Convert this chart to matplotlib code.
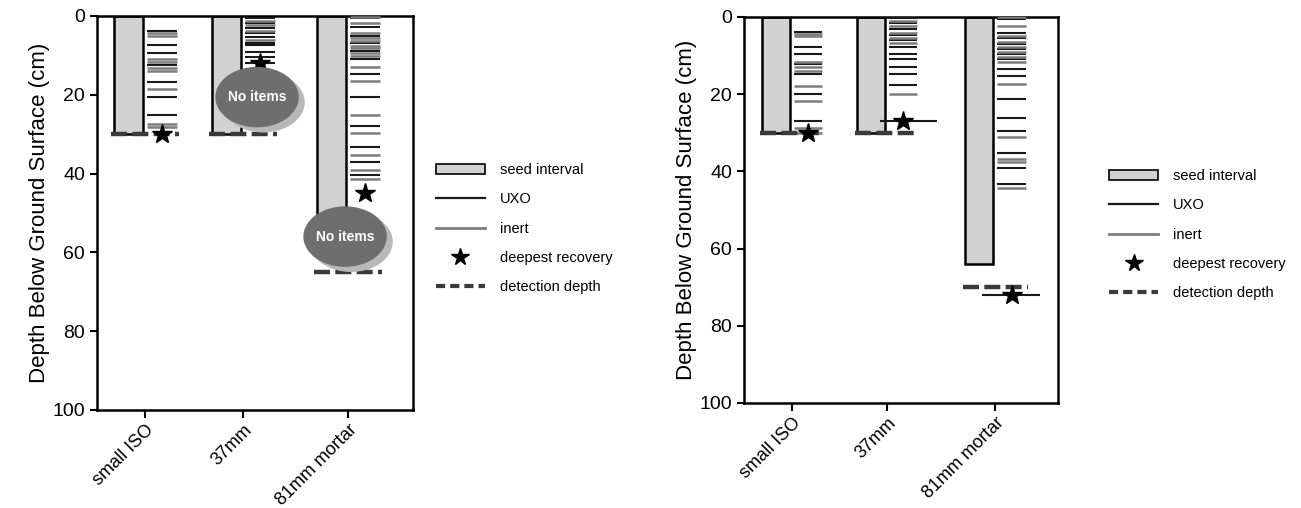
import matplotlib
matplotlib.use("Agg")
import matplotlib.pyplot as plt
from matplotlib.patches import Patch, Ellipse
from matplotlib.lines import Line2D

plt.rcParams['font.family'] = ['Liberation Sans', 'DejaVu Sans']

categories = ["small ISO", "37mm", "81mm mortar"]

# site A (left panel)
a_seed = [30, 30, 58]
a_detect = [30, 30, 65]
a_deepest = [30, 12, 45]
a_uxo = [
    [3.7, 7.4, 9.3, 12.4, 16.7, 20.6, 25.1],
    [0.6, 1.7, 3.1, 4.4, 5.4, 6.8, 7.4, 9.1, 10.3, 11.9],
    [0.6, 2.7, 5.1, 6.9, 8.8, 11.0, 14.7, 20.5, 27.9, 33.3, 37.0, 40.4],
]
a_inert = [
    [4.4, 5.0, 11.0, 11.7, 13.3, 14.0, 18.6, 27.4, 28.1],
    [1.2, 2.3, 3.9, 6.1],
    [0.3, 1.9, 4.4, 5.7, 6.3, 7.5, 8.2, 9.5, 10.2, 12.9, 16.5, 25.1, 29.6,
     35.2, 39.0, 41.4],
]
a_empty = [None, 20.6, 56.0]

# site B (right panel)
b_seed = [30, 30, 64]
b_detect = [30, 30, 70]
b_deepest = [30, 27, 72]
b_uxo = [
    [3.8, 7.7, 9.7, 12.2, 14.7, 20.0, 26.9],
    [0.3, 1.6, 3.2, 4.7, 6.1, 7.7, 9.6, 11.0, 12.9, 14.8, 17.6],
    [0.6, 4.2, 5.5, 7.0, 8.4, 9.6, 11.0, 13.5, 15.3, 21.3, 26.2, 29.5,
     35.3, 39.2, 43.3],
]
b_inert = [
    [4.4, 4.9, 11.6, 12.9, 14.0, 17.9, 21.9, 28.8, 30.0],
    [1.0, 2.3, 4.1, 5.5, 6.8, 20.0],
    [0.1, 2.3, 4.9, 6.4, 7.7, 9.0, 10.3, 11.6, 17.4, 31.1, 36.9, 37.5, 44.4],
]

SEED_C = "#d2d2d2"
UXO_C = "#1a1a1a"
INERT_C = "#7c7c7c"
DET_C = "#3a3a3a"


def draw_panel(ax, xpos, seed, detect, deepest, uxo, inert, empty=None,
               long_star=None):
    for i, x in enumerate(xpos):
        ax.bar(x - 0.17, seed[i], width=0.29, bottom=0, color=SEED_C,
               edgecolor="black", linewidth=1.8, zorder=2)
        for d in uxo[i]:
            ax.hlines(d, x + 0.02, x + 0.32, color=UXO_C, lw=1.5, zorder=3)
        for d in inert[i]:
            ax.hlines(d, x + 0.02, x + 0.32, color=INERT_C, lw=1.8, zorder=3)
        if long_star and long_star[i]:
            ax.hlines(deepest[i], x + long_star[i][0], x + long_star[i][1],
                      color=UXO_C, lw=1.5, zorder=3)
        ax.plot([x - 0.34, x + 0.34], [detect[i], detect[i]], color=DET_C,
                lw=3.2, dashes=(3.6, 1.2), solid_capstyle="butt", zorder=4)
        ax.plot(x + 0.17, deepest[i], marker="*", color="black",
                markersize=15, zorder=5)
        if empty and empty[i] is not None:
            cx = x + 0.14 if i == 1 else x - 0.03
            ax.add_patch(Ellipse((cx + 0.06, empty[i] + 1.3), 0.82, 15,
                                 color="#b8b8b8", zorder=6))
            ax.add_patch(Ellipse((cx, empty[i]), 0.82, 15,
                                 color="#6e6e6e", zorder=7))
            ax.text(cx, empty[i], "No items", color="white", fontsize=10,
                    fontweight="bold", ha="center", va="center", zorder=8)

    ax.set_ylim(100, 0)
    ax.set_yticks([0, 20, 40, 60, 80, 100])
    ax.set_xticks(xpos)
    ax.set_xticklabels(categories, rotation=45, ha="right",
                       rotation_mode="anchor", fontsize=13)
    ax.tick_params(axis="y", labelsize=14, width=1.5, length=5)
    ax.tick_params(axis="x", width=1.5, length=6, pad=2)
    ax.set_ylabel("Depth Below Ground Surface (cm)", fontsize=16, labelpad=2)
    for s in ax.spines.values():
        s.set_linewidth(1.8)


def add_legend(ax, anchor):
    handles = [
        Patch(facecolor=SEED_C, edgecolor="black", linewidth=1.2),
        Line2D([], [], color=UXO_C, lw=1.6),
        Line2D([], [], color=INERT_C, lw=2.0),
        Line2D([], [], color="black", marker="*", markersize=13, lw=0),
        Line2D([], [], color=DET_C, lw=3, dashes=(2.2, 1.2)),
    ]
    labels = ["seed interval", "UXO", "inert", "deepest recovery",
              "detection depth"]
    ax.legend(handles, labels, loc="upper left", bbox_to_anchor=anchor,
              frameon=False, fontsize=10.5, handlelength=3.4,
              handletextpad=1.0, labelspacing=1.05)


fig = plt.figure(figsize=(13.01, 5.08), dpi=100)
ax1 = fig.add_axes([0.0746, 0.193, 0.2429, 0.7756])
ax2 = fig.add_axes([0.5719, 0.2067, 0.2414, 0.760])

xa = [0, 0.98, 2.03]
draw_panel(ax1, xa, a_seed, a_detect, a_deepest, a_uxo, a_inert, empty=a_empty)
ax1.set_xlim(-0.48, 2.68)
add_legend(ax1, (1.03, 0.66))

xb = [0, 1, 2.14]
draw_panel(ax2, xb, b_seed, b_detect, b_deepest, b_uxo, b_inert,
           long_star=[None, (-0.07, 0.53), (-0.14, 0.47)])
ax2.set_xlim(-0.505, 2.8)
add_legend(ax2, (1.12, 0.64))

fig.savefig("out.png", dpi=100)
